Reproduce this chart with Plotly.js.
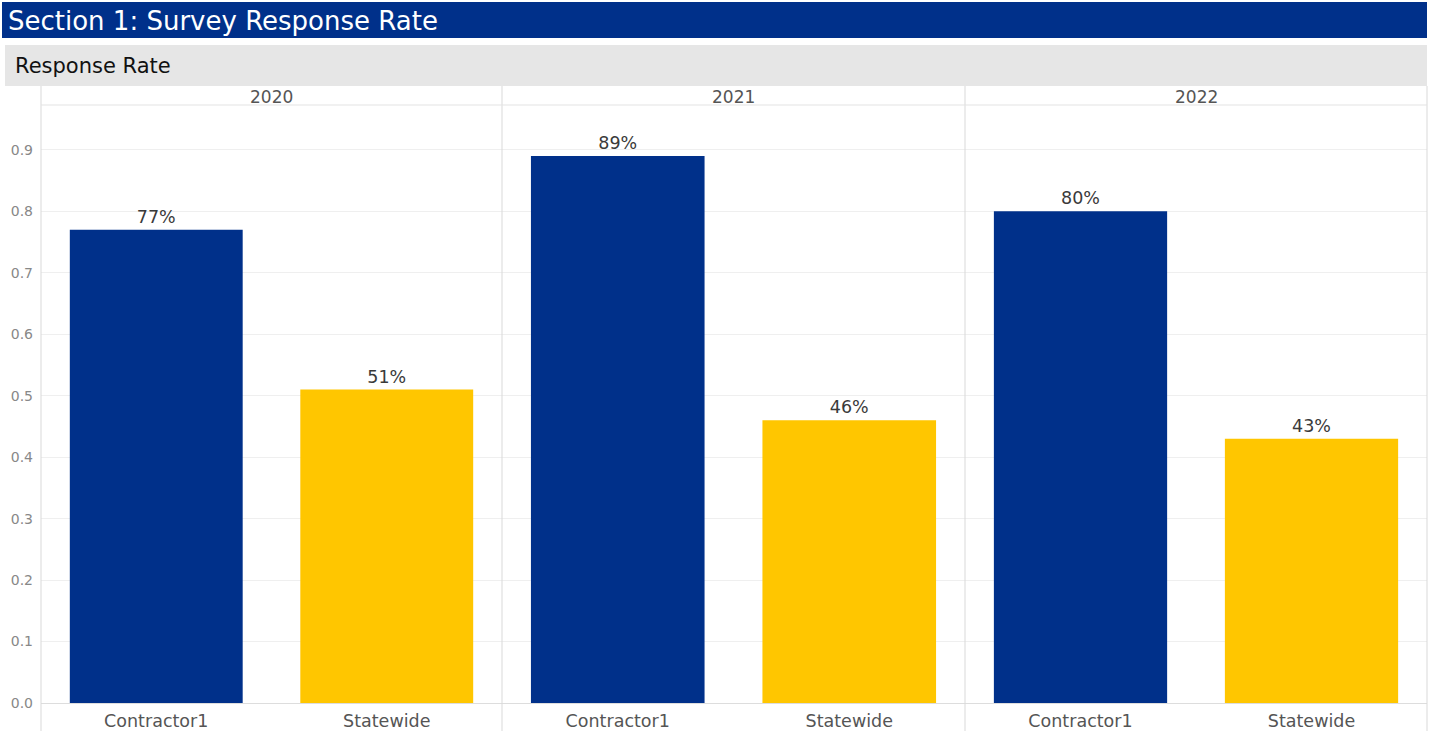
<!DOCTYPE html>
<html>
<head>
<meta charset="utf-8">
<script src="https://cdn.plot.ly/plotly-3.0.1.min.js"></script>
<style>html,body{margin:0;padding:0;background:#fff;}#chart{width:1430px;height:739px;}</style>
</head>
<body>
<div id="chart"></div>
<script>
const years = ["2020", "2021", "2022"];
const groups = ["Contractor1", "Statewide"];
const contractor1 = [0.77, 0.89, 0.80];
const statewide = [0.51, 0.46, 0.43];
const yTicks = [0, 0.1, 0.2, 0.3, 0.4, 0.5, 0.6, 0.7, 0.8, 0.9];
const mainTitle = "Section 1: Survey Response Rate";
const subTitle = "Response Rate";

const W = 1430, H = 739;
const px = v => v / W;
const py = v => 1 - v / H;
const NAVY = "#00308A", GOLD = "#FFC600";
const FONT = "DejaVu Sans, Open Sans, sans-serif";

const panelEdges = [41, 502, 965, 1427];
const traces = [];
const layout = {
  width: W, height: H,
  margin: {l: 0, r: 0, t: 0, b: 0},
  paper_bgcolor: "#fff", plot_bgcolor: "rgba(0,0,0,0)",
  showlegend: false, bargap: 0.25,
  font: {family: FONT},
  shapes: [], annotations: []
};

years.forEach((yr, i) => {
  const s = i === 0 ? "" : String(i + 1);
  traces.push({
    type: "bar", x: groups, y: [contractor1[i], statewide[i]],
    xaxis: "x" + s, yaxis: "y" + s,
    marker: {color: [NAVY, GOLD]},
    texttemplate: "%{y:.0%}", textposition: "outside", cliponaxis: false,
    textfont: {size: 17.5, color: "#3a3a3a", family: FONT},
    hoverinfo: "skip"
  });
  layout["xaxis" + s] = {
    domain: [px(panelEdges[i]), px(panelEdges[i + 1])],
    anchor: "y" + s, type: "category", range: [-0.5, 1.5],
    showgrid: false, zeroline: false, showline: false, ticks: "",
    ticklabelstandoff: 5,
    tickfont: {size: 17.5, color: "#555", family: FONT}, fixedrange: true
  };
  layout["yaxis" + s] = {
    domain: [py(703), py(105)], anchor: "x" + s,
    range: [0, 0.973], tickvals: yTicks, tickformat: ".1f",
    showticklabels: i === 0, ticks: "",
    ticklabelstandoff: 7,
    tickfont: {size: 14, color: "#888", family: FONT},
    showgrid: true, gridcolor: "#EFEFEF", gridwidth: 1,
    zeroline: true, zerolinecolor: "#DDDDDD", zerolinewidth: 1,
    showline: false, fixedrange: true
  };
  layout.annotations.push({
    xref: "x" + s + " domain", yref: "paper", x: 0.5, y: py(97),
    text: yr, showarrow: false, xanchor: "center", yanchor: "middle",
    font: {size: 17, color: "#555", family: FONT}
  });
});

// header bars
layout.shapes.push({type: "rect", xref: "paper", yref: "paper", x0: px(2), x1: px(1427), y0: py(38), y1: py(2), fillcolor: NAVY, line: {width: 0}, layer: "below"});
layout.shapes.push({type: "rect", xref: "paper", yref: "paper", x0: px(5), x1: px(1427), y0: py(86), y1: py(45), fillcolor: "#E6E6E6", line: {width: 0}, layer: "below"});
// panel separators
panelEdges.forEach(xv => {
  layout.shapes.push({type: "line", xref: "paper", yref: "paper", x0: px(xv), x1: px(xv), y0: py(731), y1: py(86), line: {color: "#D9D9D9", width: 1}});
});
layout.shapes.push({type: "line", xref: "paper", yref: "paper", x0: px(41), x1: px(1427), y0: py(105), y1: py(105), line: {color: "#E3E3E3", width: 1}});

layout.annotations.push({xref: "paper", yref: "paper", x: px(6), y: py(21), text: mainTitle, showarrow: false, xanchor: "left", yanchor: "middle", font: {size: 26, color: "#fff", family: FONT}});
layout.annotations.push({xref: "paper", yref: "paper", x: px(13), y: py(66), text: subTitle, showarrow: false, xanchor: "left", yanchor: "middle", font: {size: 21, color: "#111", family: FONT}});

Plotly.newPlot("chart", traces, layout, {displayModeBar: false, staticPlot: true});
</script>
</body>
</html>
